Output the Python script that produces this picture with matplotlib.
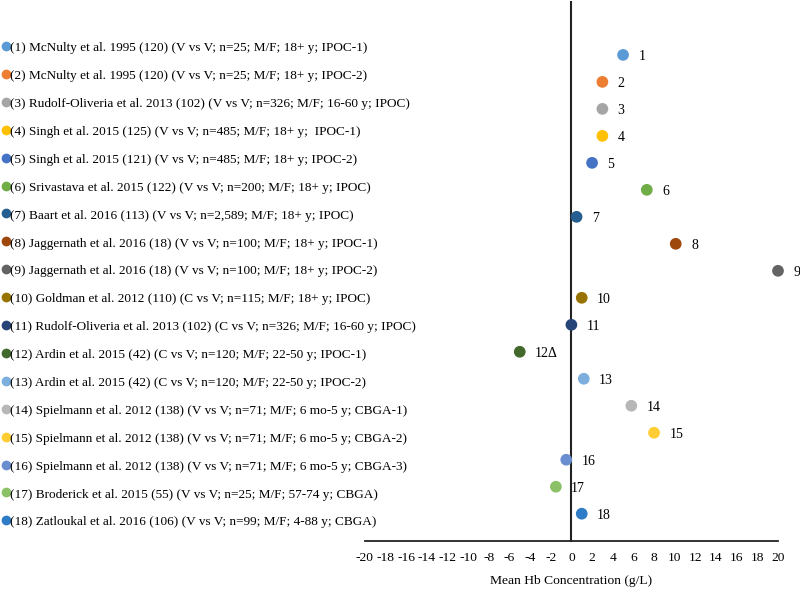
import matplotlib.pyplot as plt
from matplotlib.lines import Line2D

plt.rcParams['font.family'] = ['Liberation Serif', 'DejaVu Serif']

# Study labels (legend) and mean Hb differences (g/L)
studies = [
    "(1) McNulty et al. 1995 (120) (V vs V; n=25; M/F; 18+ y; IPOC-1)",
    "(2) McNulty et al. 1995 (120) (V vs V; n=25; M/F; 18+ y; IPOC-2)",
    "(3) Rudolf-Oliveria et al. 2013 (102) (V vs V; n=326; M/F; 16-60 y; IPOC)",
    "(4) Singh et al. 2015 (125) (V vs V; n=485; M/F; 18+ y;  IPOC-1)",
    "(5) Singh et al. 2015 (121) (V vs V; n=485; M/F; 18+ y; IPOC-2)",
    "(6) Srivastava et al. 2015 (122) (V vs V; n=200; M/F; 18+ y; IPOC)",
    "(7) Baart et al. 2016 (113) (V vs V; n=2,589; M/F; 18+ y; IPOC)",
    "(8) Jaggernath et al. 2016 (18) (V vs V; n=100; M/F; 18+ y; IPOC-1)",
    "(9) Jaggernath et al. 2016 (18) (V vs V; n=100; M/F; 18+ y; IPOC-2)",
    "(10) Goldman et al. 2012 (110) (C vs V; n=115; M/F; 18+ y; IPOC)",
    "(11) Rudolf-Oliveria et al. 2013 (102) (C vs V; n=326; M/F; 16-60 y; IPOC)",
    "(12) Ardin et al. 2015 (42) (C vs V; n=120; M/F; 22-50 y; IPOC-1)",
    "(13) Ardin et al. 2015 (42) (C vs V; n=120; M/F; 22-50 y; IPOC-2)",
    "(14) Spielmann et al. 2012 (138) (V vs V; n=71; M/F; 6 mo-5 y; CBGA-1)",
    "(15) Spielmann et al. 2012 (138) (V vs V; n=71; M/F; 6 mo-5 y; CBGA-2)",
    "(16) Spielmann et al. 2012 (138) (V vs V; n=71; M/F; 6 mo-5 y; CBGA-3)",
    "(17) Broderick et al. 2015 (55) (V vs V; n=25; M/F; 57-74 y; CBGA)",
    "(18) Zatloukal et al. 2016 (106) (V vs V; n=99; M/F; 4-88 y; CBGA)",
]
point_labels = ["1", "2", "3", "4", "5", "6", "7", "8", "9", "10", "11",
                "12\u0394", "13", "14", "15", "16", "17", "18"]
mean_hb = [5.0, 3.0, 3.0, 3.0, 2.0, 7.3, 0.5, 10.1, 20.0, 1.0, 0.0,
           -5.0, 1.2, 5.8, 8.0, -0.5, -1.5, 1.0]
colors = ["#5B9BD5", "#ED7D31", "#A5A5A5", "#FFC000", "#4472C4", "#70AD47",
          "#255E91", "#9E480E", "#636363", "#997300", "#264478", "#43682B",
          "#7CAFDD", "#B7B7B7", "#FFCD33", "#698ED0", "#8CC168", "#2E7BC6"]
xticks = list(range(-20, 21, 2))

fig = plt.figure(figsize=(8, 5.89), dpi=100)

# main plot area
ax = fig.add_axes([0.456, 0.082, 0.5165, 0.9146])
rows = list(range(1, len(mean_hb) + 1))
ax.scatter(mean_hb, rows, s=55, c=colors, zorder=3, clip_on=False)
for x, y, lab in zip(mean_hb, rows, point_labels):
    ax.annotate(lab, (x, y), xytext=(11, -1), textcoords='offset points',
                ha='left', va='center', fontsize=10, annotation_clip=False)

ax.set_xlim(-20, 20)
ax.set_ylim(19, -0.96)
ax.set_xticks(xticks)
ax.set_xticklabels([str(t) for t in xticks], fontsize=9.7)
ax.set_yticks([])
ax.tick_params(axis='x', length=0, pad=8)
ax.spines['left'].set_position(('data', 0))
ax.spines['left'].set_color('#222222')
ax.spines['left'].set_linewidth(1.5)
ax.spines['bottom'].set_color('#222222')
ax.spines['bottom'].set_linewidth(1.3)
ax.spines['top'].set_visible(False)
ax.spines['right'].set_visible(False)
ax.set_xlabel("Mean Hb Concentration (g/L)", fontsize=9.7, labelpad=8)

# legend drawn as a column on the left
lax = fig.add_axes([0, 0, 0.45, 1])
lax.set_xlim(0, 360)
lax.set_ylim(589, 0)
lax.axis('off')
for i, (txt, col) in enumerate(zip(studies, colors)):
    yy = 46.7 + i * 27.9
    lax.add_line(Line2D([5.5], [yy - 0.7], marker='o', markersize=6,
                        color=col, linestyle='none'))
    lax.text(10.5, yy, txt, fontsize=9.5, va='center_baseline', ha='left')

fig.savefig("out.png", dpi=100)
